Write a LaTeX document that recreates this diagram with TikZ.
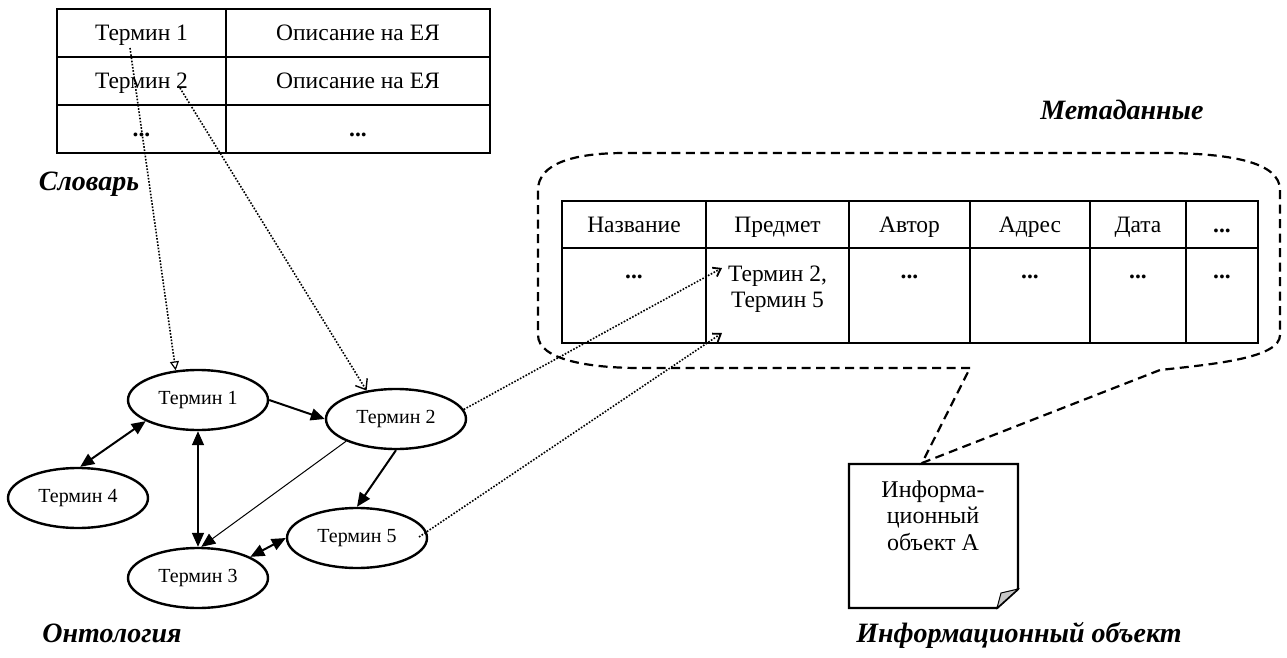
\documentclass[tikz,border=0pt]{standalone}
\usepackage{fontspec}
\setmainfont{Liberation Serif}
\usetikzlibrary{shapes.geometric,arrows.meta}
\begin{document}
\begin{tikzpicture}[x=1pt,y=-1pt,
 tcell/.style={draw, line width=2.6pt, inner sep=0pt, text height=15.5pt, text depth=0pt, font=\fontsize{23.5}{27}\selectfont},
 mcell/.style={draw, line width=2.6pt, inner sep=0pt, text height=15.5pt, text depth=0pt, font=\fontsize{23.5}{27}\selectfont},
 mtext/.style={inner sep=0pt, align=center, anchor=base, font=\fontsize{23.5}{26}\selectfont},
 ell/.style={ellipse, draw, line width=2.4pt, minimum width=140pt, minimum height=60pt, inner sep=0pt, font=\fontsize{20}{22}\selectfont},
 titletext/.style={font=\fontsize{28}{30}\selectfont\bfseries\itshape, inner sep=0pt, anchor=base},
 link/.style={line width=1.6pt, dash pattern=on 1.6pt off 1.6pt},
 rel/.style={line width=2pt, -{Triangle[length=14pt,width=12pt]}},
 birel/.style={line width=2pt, {Triangle[length=14pt,width=12pt]}-{Triangle[length=14pt,width=12pt]}},
]
\useasboundingbox (0,0) rectangle (1287,658);
\fill[white] (0,0) rectangle (1287,658);

% ---------- dictionary table ----------
\node[tcell, minimum width=169pt, minimum height=48pt] (a11) at (141.5,33) {Термин 1};
\node[tcell, minimum width=264pt, minimum height=48pt] (a12) at (358,33) {Описание на ЕЯ};
\node[tcell, minimum width=169pt, minimum height=48pt] (a21) at (141.5,81) {Термин 2};
\node[tcell, minimum width=264pt, minimum height=48pt] (a22) at (358,81) {Описание на ЕЯ};
\node[tcell, minimum width=169pt, minimum height=48pt] (a31) at (141.5,129) {\textbf{...}};
\node[tcell, minimum width=264pt, minimum height=48pt] (a32) at (358,129) {\textbf{...}};
\node[titletext] (tdict) at (89,190) {Словарь};

% ---------- metadata ----------
\node[titletext] (tmeta) at (1122,120) {Метаданные};

% callout
\draw[line width=2.2pt, dash pattern=on 9pt off 5.5pt]
  (970,368) -- (640,368)
  .. controls (590,368) and (538,360) .. (538,335)
  -- (538,190)
  .. controls (538,163) and (575,153) .. (625,153)
  -- (1160,153)
  .. controls (1230,153) and (1280,162) .. (1280,190)
  -- (1280,335)
  .. controls (1280,358) and (1215,364) .. (1160,370)
  -- (922,463) -- cycle;

\node[mcell, fill=white, minimum width=144pt, minimum height=47pt] (m11) at (634,224.5) {Название};
\node[mcell, fill=white, minimum width=143pt, minimum height=47pt] (m12) at (777.5,224.5) {Предмет};
\node[mcell, fill=white, minimum width=121pt, minimum height=47pt] (m13) at (909.5,224.5) {Автор};
\node[mcell, fill=white, minimum width=120pt, minimum height=47pt] (m14) at (1030,224.5) {Адрес};
\node[mcell, fill=white, minimum width=96pt, minimum height=47pt] (m15) at (1138,224.5) {Дата};
\node[mcell, fill=white, minimum width=72pt, minimum height=47pt] (m16) at (1222,224.5) {\textbf{...}};
\node[mcell, fill=white, minimum width=144pt, minimum height=95pt] (m21) at (634,295.5) {};
\node[mcell, fill=white, minimum width=143pt, minimum height=95pt] (m22) at (777.5,295.5) {};
\node[mcell, fill=white, minimum width=121pt, minimum height=95pt] (m23) at (909.5,295.5) {};
\node[mcell, fill=white, minimum width=120pt, minimum height=95pt] (m24) at (1030,295.5) {};
\node[mcell, fill=white, minimum width=96pt, minimum height=95pt] (m25) at (1138,295.5) {};
\node[mcell, fill=white, minimum width=72pt, minimum height=95pt] (m26) at (1222,295.5) {};
\node[mtext] (d21) at (634,278) {\textbf{...}};
\node[mtext] (d22) at (777.5,307) {Термин 2,\\Термин 5};
\node[mtext] (d23) at (909.5,278) {\textbf{...}};
\node[mtext] (d24) at (1030,278) {\textbf{...}};
\node[mtext] (d25) at (1138,278) {\textbf{...}};
\node[mtext] (d26) at (1222,278) {\textbf{...}};

% ---------- information object ----------
\draw[line width=2.4pt, line join=miter] (997,608) -- (849,608) -- (849,464) -- (1018,464) -- (1018,589) -- cycle;
\filldraw[fill=gray!45, draw=black, line width=1pt] (997,608) -- (1018,589) -- (1001,593) -- cycle;
\node[inner sep=0pt, align=center, anchor=base, font=\fontsize{24}{26.5}\selectfont] (doctext) at (933,550) {Информа-\\ционный\\объект А};
\node[titletext] (tobj) at (1019,642) {Информационный объект};

% ---------- ontology ----------
\node[ell] (e1) at (198,400) {Термин 1};
\node[ell] (e2) at (396,419) {Термин 2};
\node[ell] (e4) at (78,498) {Термин 4};
\node[ell] (e3) at (198,578) {Термин 3};
\node[ell] (e5) at (357,538) {Термин 5};
\node[titletext] (tonto) at (112,642) {Онтология};

\draw[birel] (e1.202.8) -- (e4.86);
\draw[birel, line width=1.5pt] (e1.south) -- (e3.north);
\draw[rel] (e1.east) -- (e2.west);
\draw[line width=1pt, -{Triangle[length=14pt,width=12pt]}] (e2.204) -- (e3.84);
\draw[rel] (e2.south) -- (e5.north);
\draw[birel] (e3.22) -- (e5.west);

% ---------- dotted links ----------
\coordinate (s1) at (130,48);
\coordinate (s2) at (180,88);
\coordinate (p1) at (722,268);
\coordinate (p2) at (722,333);
\coordinate (q5) at (419,537);
\draw[link, -{Triangle[open,length=9pt,width=9pt,line width=1.2pt]}] (s1) -- (e1.127);
\draw[link, -{Straight Barb[length=9pt,width=14pt,line width=1.4pt]}] (s2) -- (e2.136);
\draw[link, -{Straight Barb[length=7pt,width=10pt,line width=1.8pt]}] (e2.8) -- (p1);
\draw[link, -{Straight Barb[length=7pt,width=10pt,line width=1.8pt]}] (q5) -- (p2);
\end{tikzpicture}
\end{document}
